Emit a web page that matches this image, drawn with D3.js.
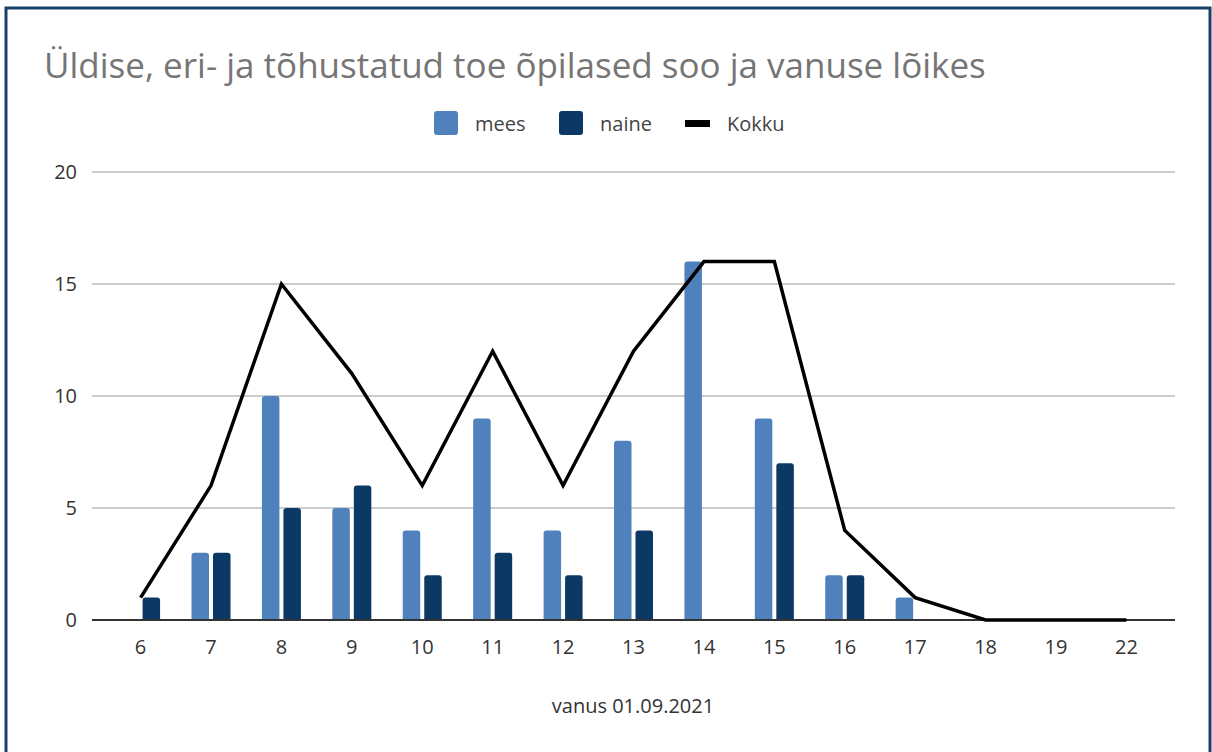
<!DOCTYPE html>
<html>
<head>
<meta charset="utf-8">
<title>Õpilased soo ja vanuse lõikes</title>
<style type="text/css">
* { margin: 0; padding: 0; }
body { background: #fff; width: 1212px; height: 752px; overflow: hidden; }
text { font-family: "Open Sans", "Noto Sans", sans-serif; }
</style>
<script src="https://cdn.jsdelivr.net/npm/d3@7/dist/d3.min.js"></script>
</head>
<body>
<div id="chart"></div>
<script type="text/javascript">
// andmed
var ages = ["6", "7", "8", "9", "10", "11", "12", "13", "14", "15", "16", "17", "18", "19", "22"];
var mees = [0, 3, 10, 5, 4, 9, 4, 8, 16, 9, 2, 1, 0, 0, 0];
var naine = [1, 3, 5, 6, 2, 3, 2, 4, 0, 7, 2, 0, 0, 0, 0];
var kokku = [1, 6, 15, 11, 6, 12, 6, 12, 16, 16, 4, 1, 0, 0, 0];
var yTicks = [0, 5, 10, 15, 20];

var W = 1212, H = 752;
var colMees = "#4f81bd", colNaine = "#0b3864";

var svg = d3.select("#chart").append("svg")
  .attr("width", W).attr("height", H);

// raam
svg.append("rect")
  .attr("x", 6).attr("y", 8)
  .attr("width", 1204).attr("height", 760)
  .attr("fill", "#fff")
  .attr("stroke", "#17406b").attr("stroke-width", 3);

svg.append("text")
  .attr("x", 44).attr("y", 78)
  .attr("fill", "#757575")
  .style("font-size", "35px")
  .text("Üldise, eri- ja tõhustatud toe õpilased soo ja vanuse lõikes");

var x = d3.scalePoint().domain(ages).range([92, 1175]).padding(0.69);
var y = d3.scaleLinear().domain([0, 20]).range([620, 172]);

// ruudustik
svg.append("g").selectAll("line").data(yTicks.filter(function(d) { return d > 0; }))
  .join("line")
  .attr("x1", 92).attr("x2", 1175)
  .attr("y1", function(d) { return y(d); }).attr("y2", function(d) { return y(d); })
  .attr("stroke", "#cccccc").attr("stroke-width", 2);

svg.append("g").selectAll("text").data(yTicks)
  .join("text")
  .attr("x", 77).attr("y", function(d) { return y(d) + 7; })
  .attr("text-anchor", "end")
  .attr("fill", "#333")
  .style("font-size", "20px")
  .text(function(d) { return d; });

var bw = 17.5, gap = 2;

function barPath(x0, v) {
  var h = y(0) - y(v), r = Math.min(3, h);
  if (h <= 0) return "";
  var yt = y(v);
  return "M" + x0 + "," + y(0) +
    "V" + (yt + r) + "Q" + x0 + "," + yt + " " + (x0 + r) + "," + yt +
    "H" + (x0 + bw - r) + "Q" + (x0 + bw) + "," + yt + " " + (x0 + bw) + "," + (yt + r) +
    "V" + y(0) + "Z";
}

svg.append("g").selectAll("path").data(ages)
  .join("path")
  .attr("fill", colMees)
  .attr("d", function(d, i) { return barPath(x(d) - gap - bw, mees[i]); });

svg.append("g").selectAll("path").data(ages)
  .join("path")
  .attr("fill", colNaine)
  .attr("d", function(d, i) { return barPath(x(d) + gap, naine[i]); });

// telg
svg.append("line")
  .attr("x1", 92).attr("x2", 1175).attr("y1", y(0)).attr("y2", y(0))
  .attr("stroke", "#333").attr("stroke-width", 2);

var line = d3.line()
  .x(function(d, i) { return x(ages[i]); })
  .y(function(d) { return y(d); });

svg.append("path")
  .datum(kokku)
  .attr("d", line)
  .attr("fill", "none")
  .attr("stroke", "#000")
  .attr("stroke-width", 3.5)
  .attr("stroke-linejoin", "miter");

svg.append("g").selectAll("text").data(ages)
  .join("text")
  .attr("x", function(d) { return x(d); }).attr("y", 654)
  .attr("text-anchor", "middle")
  .attr("fill", "#333")
  .style("font-size", "20px")
  .text(function(d) { return d; });

svg.append("text")
  .attr("x", 633).attr("y", 713)
  .attr("text-anchor", "middle")
  .attr("fill", "#333")
  .style("font-size", "20px")
  .text("vanus 01.09.2021");

// legend
var leg = svg.append("g");
leg.append("rect").attr("x", 434).attr("y", 111).attr("width", 24).attr("height", 24).attr("rx", 3).attr("fill", colMees);
leg.append("text").attr("x", 475).attr("y", 131).attr("fill", "#444").style("font-size", "20px").text("mees");
leg.append("rect").attr("x", 559).attr("y", 111).attr("width", 24).attr("height", 24).attr("rx", 3).attr("fill", colNaine);
leg.append("text").attr("x", 600).attr("y", 131).attr("fill", "#444").style("font-size", "20px").text("naine");
leg.append("rect").attr("x", 685).attr("y", 120).attr("width", 25).attr("height", 7).attr("fill", "#000");
leg.append("text").attr("x", 727).attr("y", 131).attr("fill", "#444").style("font-size", "20px").text("Kokku");
</script>
</body>
</html>
